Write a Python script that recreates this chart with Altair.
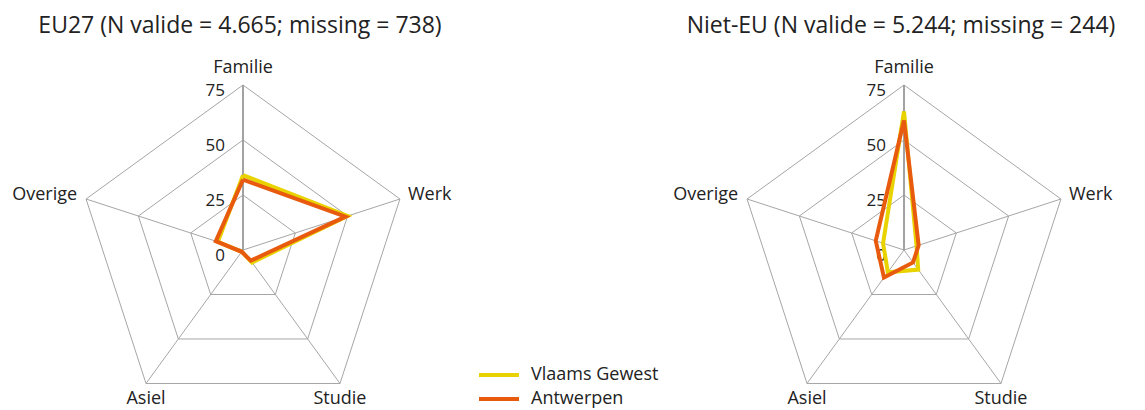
import math
import altair as alt
import pandas as pd

# ---------------- data ----------------
categories = ["Familie", "Werk", "Studie", "Asiel", "Overige"]
series = ["Vlaams Gewest", "Antwerpen"]
panels = ["EU27", "Niet-EU"]
titles = ["EU27 (N valide = 4.665; missing = 738)",
          "Niet-EU (N valide = 5.244; missing = 244)"]
eu27_vlaams = [34, 50, 7, 1, 12]
eu27_antwerpen = [32, 49, 6, 1, 13]
nieteu_vlaams = [63, 6, 11, 12.5, 10]
nieteu_antwerpen = [59, 7, 7, 15.5, 13.5]
tick_values = [0, 25, 50, 75]
grid_levels = [25, 50, 75]

values = {
    ("EU27", "Vlaams Gewest"): eu27_vlaams,
    ("EU27", "Antwerpen"): eu27_antwerpen,
    ("Niet-EU", "Vlaams Gewest"): nieteu_vlaams,
    ("Niet-EU", "Antwerpen"): nieteu_antwerpen,
}

# ---------------- layout ----------------
W, H = 1129, 402          # whole page minus the 8px margin
PX = 2.2                  # pixels per percentage point
CX, CY = 235, 242         # centre of left radar in plot pixels
PANEL_GAP = 661 / PX      # distance between the two radar centres, data units
XMIN = -CX / PX
XMAX = (W - CX) / PX
YMAX = CY / PX
YMIN = -(H - CY) / PX
offsets = {"EU27": 0.0, "Niet-EU": PANEL_GAP}
RMAX = 75
N = len(categories)

YELLOW = "#E8D300"
ORANGE = "#E85B0E"
GRID = "#A6A6A6"
TEXT = "#222222"
FONT = "Open Sans"


def polar(r, k):
    a = 2 * math.pi * k / N
    return r * math.sin(a), r * math.cos(a)


# series polygons
rows = []
for p in panels:
    for s in series:
        vals = values[(p, s)]
        for k in range(N + 1):
            kk = k % N
            x, y = polar(vals[kk], kk)
            rows.append({"panel": p, "series": s, "category": categories[kk],
                         "order": k, "value": vals[kk],
                         "x": offsets[p] + x, "y": y})
df_series = pd.DataFrame(rows)

# grid rings
rows = []
for p in panels:
    for lvl in grid_levels:
        for k in range(N + 1):
            x, y = polar(lvl, k % N)
            rows.append({"panel": p, "ring": lvl, "order": k,
                         "x": offsets[p] + x, "y": y})
df_rings = pd.DataFrame(rows)

# spokes
rows = []
for p in panels:
    for k in range(N):
        x, y = polar(RMAX, k)
        rows.append({"panel": p, "category": categories[k], "x": offsets[p], "y": 0,
                     "x2": offsets[p] + x, "y2": y, "main": k == 0})
df_spokes = pd.DataFrame(rows)

# tick labels
df_ticks = pd.DataFrame([{"panel": p, "x": offsets[p], "y": t, "label": str(t)}
                         for p in panels for t in tick_values])

# category labels
rows = []
for p in panels:
    for k, c in enumerate(categories):
        x, y = polar(RMAX, k)
        rows.append({"panel": p, "category": c, "x": offsets[p] + x, "y": y})
df_cats = pd.DataFrame(rows)

# titles (baseline placed 25px below the top of the plot area)
df_titles = pd.DataFrame([{"panel": p, "title": t, "x": offsets[p], "y": (CY - 25) / PX}
                          for p, t in zip(panels, titles)])

xs = alt.Scale(domain=[XMIN, XMAX], nice=False, zero=False)
ys = alt.Scale(domain=[YMIN, YMAX], nice=False, zero=False)
X = lambda f="x": alt.X(f"{f}:Q", scale=xs, axis=None)
Y = lambda f="y": alt.Y(f"{f}:Q", scale=ys, axis=None)

rings = alt.Chart(df_rings).mark_line(color=GRID, strokeWidth=1).encode(
    x=X(), y=Y(), order="order:Q", detail=["panel:N", "ring:Q"])

spokes = alt.Chart(df_spokes).mark_rule(color=GRID, strokeWidth=1).encode(
    x=X(), y=Y(), x2="x2:Q", y2="y2:Q")

axis_spoke = alt.Chart(df_spokes).transform_filter("datum.main").mark_rule(
    color="#969696", strokeWidth=1.6).encode(x=X(), y=Y(), x2="x2:Q", y2="y2:Q")

ticks = alt.Chart(df_ticks).mark_text(
    align="right", baseline="middle", dx=-18, dy=6, fontSize=17, font=FONT, color=TEXT
).encode(x=X(), y=Y(), text="label:N")

lines = alt.Chart(df_series).mark_line(strokeWidth=4, strokeJoin="miter").encode(
    x=X(), y=Y(), order="order:Q", detail="panel:N",
    color=alt.Color("series:N", sort=series,
                    scale=alt.Scale(domain=series, range=[YELLOW, ORANGE]),
                    legend=alt.Legend(
                        title=None, orient="none", legendX=479, legendY=355,
                        symbolType="M-2,0H2", symbolSize=400, symbolStrokeWidth=4,
                        symbolFillColor="transparent",
                        labelFontSize=18, labelFont=FONT, labelColor=TEXT,
                        labelOffset=20, rowPadding=3, padding=0)),
)


def cat_text(cats, **kw):
    flt = alt.FieldOneOfPredicate(field="category", oneOf=cats)
    return alt.Chart(df_cats).transform_filter(flt).mark_text(
        fontSize=18, font=FONT, color=TEXT, baseline="middle", **kw
    ).encode(x=X(), y=Y(), text="category:N")


cat_top = cat_text(["Familie"], align="center", dy=-17)
cat_right = cat_text(["Werk"], align="left", dx=8, dy=-4)
cat_left = cat_text(["Overige"], align="right", dx=-9, dy=-4)
cat_bottom = cat_text(["Asiel", "Studie"], align="center", dy=16)

title_text = alt.Chart(df_titles).mark_text(
    align="center", baseline="alphabetic", fontSize=23, font=FONT, color=TEXT, dx=-3
).encode(x=X(), y=Y(), text="title:N")

chart = alt.layer(
    rings, spokes, axis_spoke, ticks, lines,
    cat_top, cat_right, cat_left, cat_bottom, title_text
).properties(
    width=W, height=H, padding=0, autosize=alt.AutoSizeParams(type="none")
).configure_view(stroke=None)

chart.save("out.html", embed_options={"renderer": "svg", "actions": False})
